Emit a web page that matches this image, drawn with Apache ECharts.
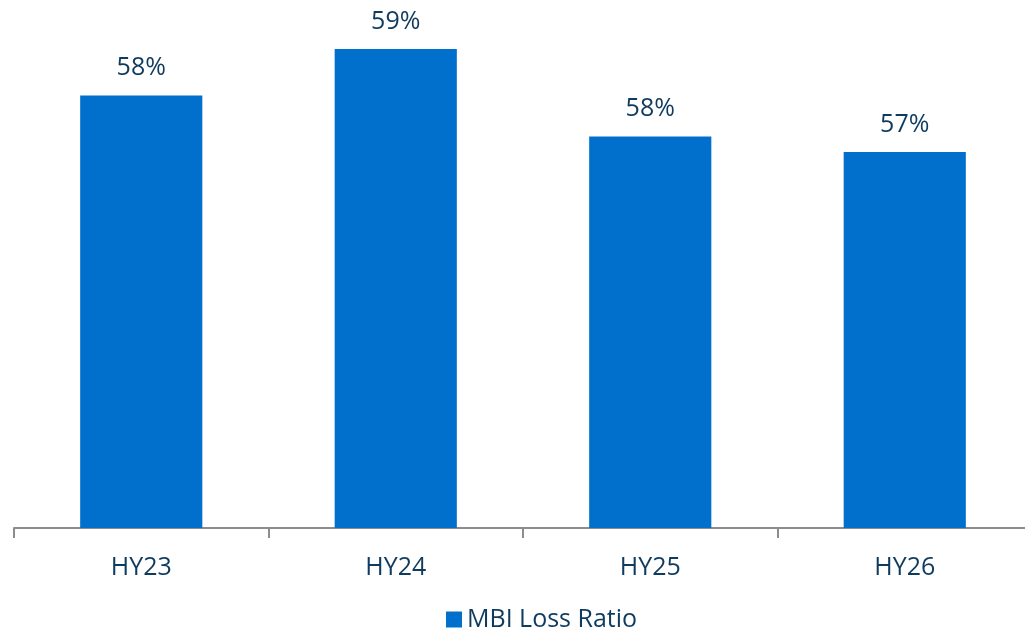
<!DOCTYPE html>
<html>
<head>
<meta charset="utf-8">
<script src="https://cdn.jsdelivr.net/npm/echarts@6/dist/echarts.min.js"></script>
<style>
  html, body { margin: 0; padding: 0; background: #ffffff; overflow: hidden; }
  #chart { width: 1032px; height: 634px; }
</style>
</head>
<body>
<div id="chart"></div>
<script>
// Half-year periods and MBI loss ratio (%)
const categories = ['HY23', 'HY24', 'HY25', 'HY26'];
const lossRatio = [58.4, 59.3, 57.6, 57.3];
const seriesName = 'MBI Loss Ratio';

const textColor = '#0f3b5f';
const barColor = '#0070cc';
const fontFamily = '"Open Sans", "Noto Sans", sans-serif';

const chart = echarts.init(document.getElementById('chart'), null, { renderer: 'canvas' });

chart.setOption({
  animation: false,
  backgroundColor: '#ffffff',
  // the axis runs slightly past the right edge of the visible page
  grid: { left: 14, right: 0, top: 13, bottom: 106 },
  legend: {
    data: [seriesName],
    left: 441,
    bottom: -3,
    icon: 'rect',
    itemWidth: 16,
    itemHeight: 16,
    itemGap: 8,
    textStyle: { color: textColor, fontSize: 25, fontFamily: fontFamily }
  },
  xAxis: {
    type: 'category',
    data: categories,
    axisLine: { show: true, lineStyle: { color: '#8c8c8c', width: 2 } },
    axisTick: { show: true, length: 10, alignWithLabel: false, lineStyle: { color: '#8c8c8c', width: 2 } },
    axisLabel: { color: textColor, fontSize: 25, fontFamily: fontFamily, margin: 27 },
    splitLine: { show: false }
  },
  yAxis: {
    type: 'value',
    min: 50,
    max: 60,
    show: false,
    splitLine: { show: false }
  },
  series: [{
    name: seriesName,
    type: 'bar',
    data: lossRatio,
    barWidth: '48%',
    itemStyle: { color: barColor },
    label: {
      show: true,
      position: 'top',
      distance: 15,
      color: textColor,
      fontSize: 25,
      fontFamily: fontFamily,
      formatter: p => Math.round(p.value) + '%'
    }
  }]
});
</script>
</body>
</html>
